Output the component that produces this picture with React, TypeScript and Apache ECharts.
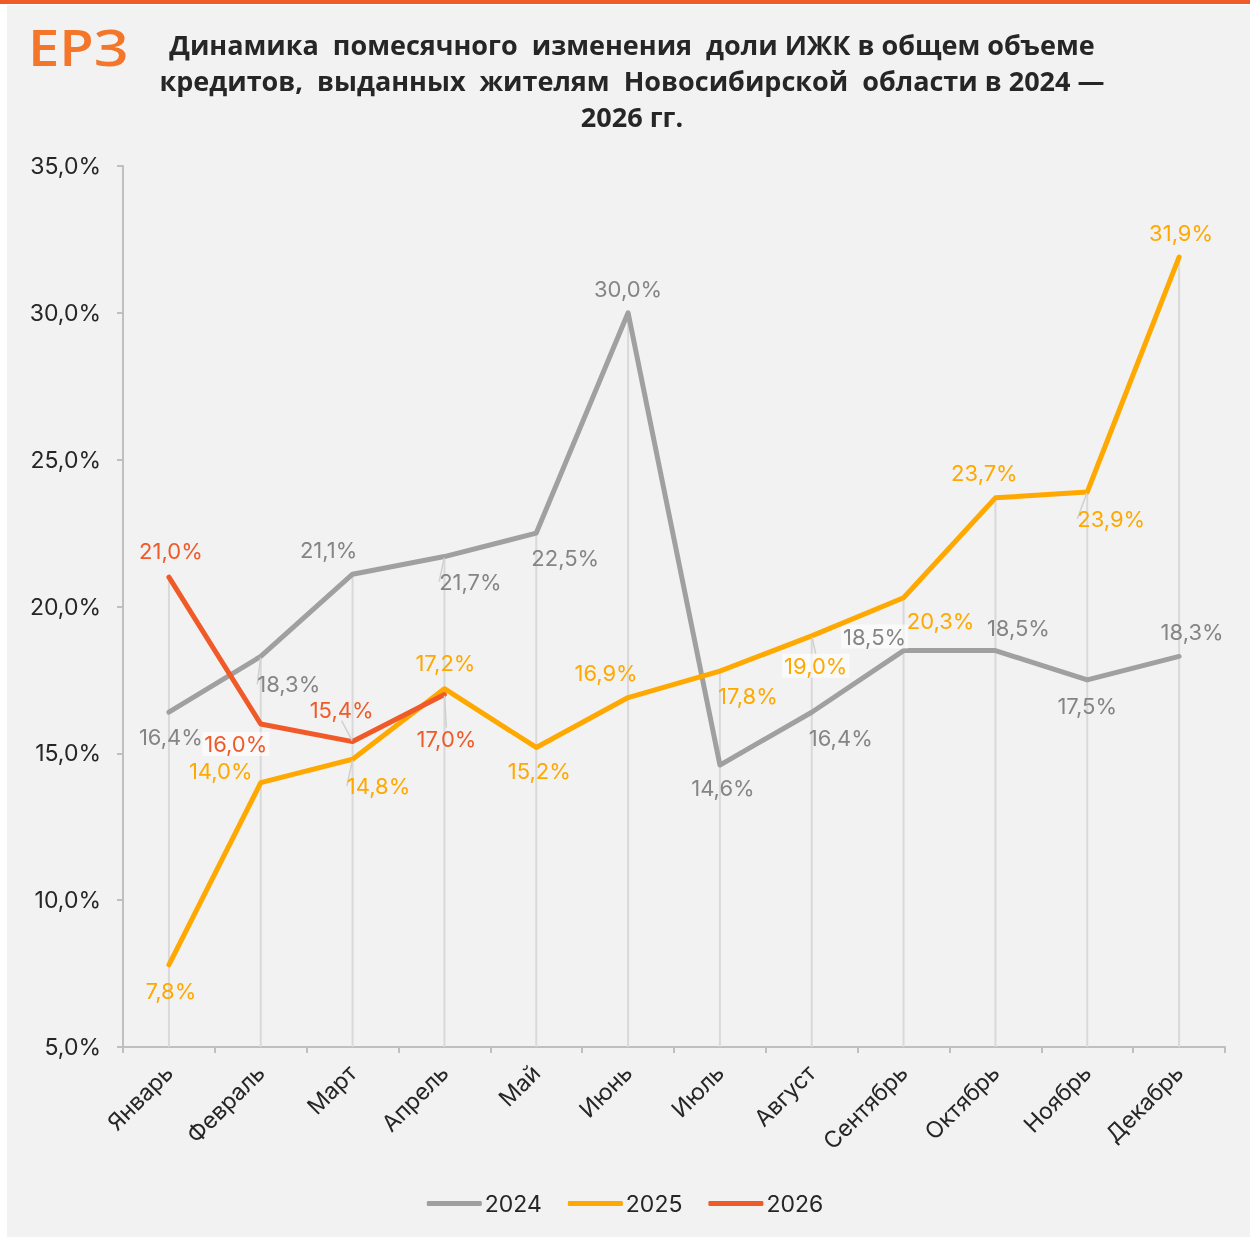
import { useEffect, useRef } from 'react';
import * as echarts from 'echarts';

const months = ['Январь', 'Февраль', 'Март', 'Апрель', 'Май', 'Июнь', 'Июль', 'Август', 'Сентябрь', 'Октябрь', 'Ноябрь', 'Декабрь'];
const years = ['2024', '2025', '2026'];
const values2024 = [16.4, 18.3, 21.1, 21.7, 22.5, 30.0, 14.6, 16.4, 18.5, 18.5, 17.5, 18.3];
const values2025 = [7.8, 14.0, 14.8, 17.2, 15.2, 16.9, 17.8, 19.0, 20.3, 23.7, 23.9, 31.9];
const values2026 = [21.0, 16.0, 15.4, 17.0];
const yMin = 5;
const yMax = 35;
const yStep = 5;

const titleText = 'Динамика  помесячного  изменения  доли ИЖК в общем объеме\nкредитов,  выданных  жителям  Новосибирской  области в 2024 —\n2026 гг.';

const colors = ['#a0a0a0', '#ffa800', '#f05a28'];
const labelColors = ['#858585', '#ffa800', '#f05a28'];

// label placement (pixel offsets from point), layout only
const labelOffsets: number[][][] = [
  [[2, 25], [28, 28], [-24, -24], [26, 25], [29, 25], [0, -24], [3, 23], [29, 26], [-29, -14], [23, -23], [0, 26], [13, -24]],
  [[2, 26], [-40, -12], [26, 27], [1, -26], [3, 24], [-22, -25], [28, 25], [4, 30], [37, 23], [-11, -25], [24, 27], [2, -24]],
  [[2, -26], [-25, 20], [-11, -32], [2, 44]],
];
const leaderLines: number[][] = [[1, 3], [2, 7, 10], [2, 3]];
const labelBg: number[][] = [[8], [7], [1]];

const fmt = (v: number) => v.toFixed(1).replace('.', ',') + '%';
const FONT = 'Inter, "Open Sans", sans-serif';

export default function App() {
  const ref = useRef<HTMLDivElement>(null);
  useEffect(() => {
    if (!ref.current) return;
    const chart = echarts.init(ref.current, null, { renderer: 'svg' });
    const seriesVals = [values2024, values2025, values2026];
    const dropVals = months.map((_, i) => Math.max(...seriesVals.map((s) => (s[i] !== undefined ? s[i] : -Infinity))));

    const lineSeries = seriesVals.map((vals, si) => ({
      name: years[si],
      type: 'line',
      data: vals.map((v, di) => ({
        value: v,
        labelLine: { show: leaderLines[si].includes(di) },
        label: labelBg[si].includes(di)
          ? { backgroundColor: 'rgba(255,255,255,0.6)', padding: [1, 2] }
          : {},
      })),
      symbol: 'circle',
      symbolSize: 2,
      z: 3 + si,
      lineStyle: { color: colors[si], width: 5, cap: 'round', join: 'round' },
      itemStyle: { color: colors[si] },
      label: {
        show: true,
        position: 'inside',
        formatter: (p: any) => fmt(p.value),
        color: labelColors[si],
        fontSize: 22,
        fontFamily: FONT,
      },
      labelLine: { show: false, lineStyle: { color: '#d0d0d0', width: 1.5 } },
      labelLayout: (p: any) => {
        const off = labelOffsets[si][p.dataIndex] || [0, -24];
        return {
          x: p.rect.x + p.rect.width / 2 + off[0],
          y: p.rect.y + p.rect.height / 2 + off[1],
          align: 'center',
          verticalAlign: 'middle',
        };
      },
    }));

    chart.setOption({
      animation: false,
      backgroundColor: 'transparent',
      grid: { left: 123, right: 25, top: 166, bottom: 190, containLabel: false },
      graphic: [
        { type: 'rect', shape: { x: 7, y: 5, width: 1243, height: 1232 }, style: { fill: '#f2f2f2' }, z: -10 },
        { type: 'rect', shape: { x: 0, y: 0, width: 1250, height: 4 }, style: { fill: '#f05a28' }, z: -9 },
        {
          type: 'text',
          x: 28,
          y: 21,
          scaleX: 1.1,
          style: {
            text: 'ЕРЗ',
            font: '600 51px "Open Sans", sans-serif',
            fill: '#f4762a',
          },
        },
        {
          type: 'text',
          x: 632,
          y: 26,
          style: {
            text: titleText,
            textAlign: 'center',
            font: 'bold 27px "Open Sans", sans-serif',
            lineHeight: 36,
            fill: '#262626',
          },
        },
      ],
      legend: {
        data: years,
        bottom: 17,
        left: 'center',
        icon: 'roundRect',
        itemWidth: 55,
        itemHeight: 5,
        itemGap: 26,
        textStyle: { fontSize: 23, color: '#262626', fontFamily: FONT, padding: [0, 0, 0, -2] },
      },
      xAxis: {
        type: 'category',
        data: months,
        boundaryGap: true,
        axisLine: { lineStyle: { color: '#bfbfbf', width: 2 } },
        axisTick: { show: true, length: 6, lineStyle: { color: '#bfbfbf', width: 2 } },
        axisLabel: { rotate: 45, fontSize: 23, color: '#262626', fontFamily: FONT, margin: 22 },
      },
      yAxis: {
        type: 'value',
        min: yMin,
        max: yMax,
        interval: yStep,
        axisLine: { show: true, lineStyle: { color: '#bfbfbf', width: 2 } },
        axisTick: { show: true, length: 6, lineStyle: { color: '#bfbfbf', width: 2 } },
        splitLine: { show: false },
        axisLabel: { formatter: (v: number) => fmt(v), fontSize: 23, color: '#262626', fontFamily: FONT, margin: 22 },
      },
      series: [
        {
          type: 'bar',
          data: dropVals,
          barWidth: 2,
          silent: true,
          z: 1,
          itemStyle: { color: '#d9d9d9' },
        },
        ...lineSeries,
      ],
    });
    return () => chart.dispose();
  }, []);
  return <div ref={ref} style={{ position: 'fixed', left: 0, top: 0, width: 1250, height: 1237 }} />;
}
